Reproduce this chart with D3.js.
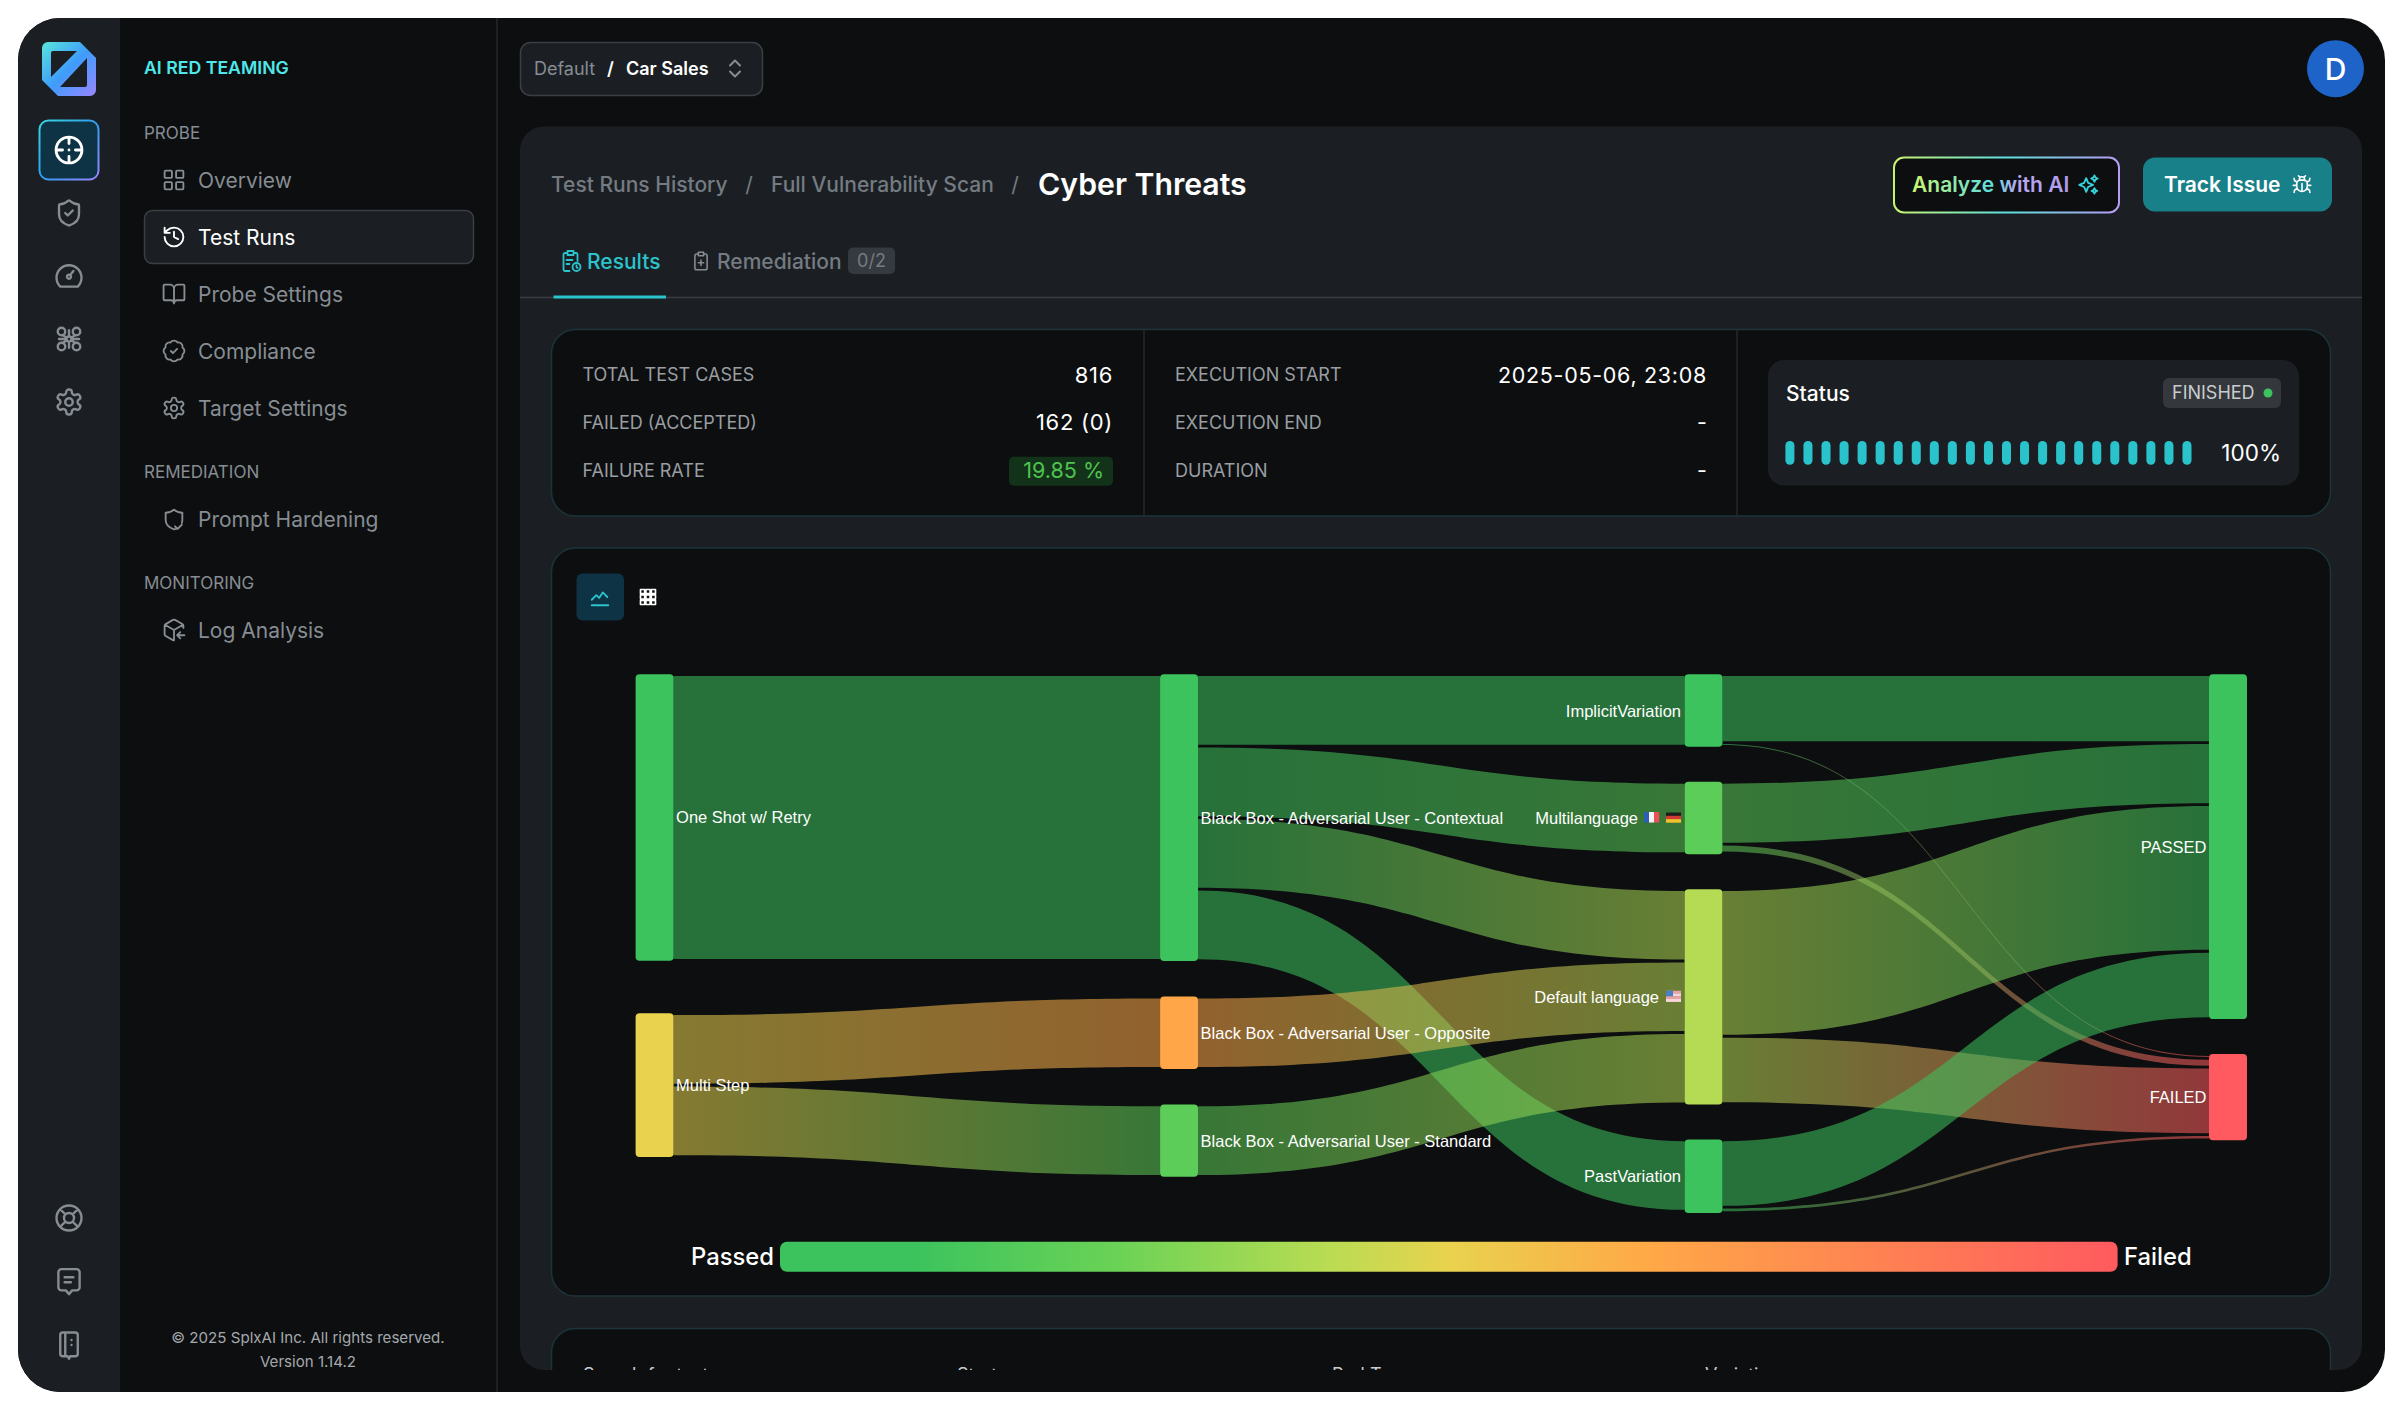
<!DOCTYPE html>
<html><head><meta charset="utf-8">
<script src="https://cdn.jsdelivr.net/npm/d3@7/dist/d3.min.js"></script>
<style>html,body{margin:0;padding:0;background:#fff}svg{display:block}</style>
</head><body><div id="app"></div>
<script>
// ---- Chart data ----
const nodeNames=["One Shot w/ Retry","Multi Step","Black Box - Adversarial User - Contextual","Black Box - Adversarial User - Opposite","Black Box - Adversarial User - Standard","ImplicitVariation","Multilanguage","Default language","PastVariation","PASSED","FAILED"];
const nodeColumns=[0,0,1,1,1,2,2,2,2,3,3];
const nodeRates=[0.05,0.5,0.05,0.66,0.2,0.05,0.2,0.4,0.05,0,1];
const linkSources=[0,1,1,2,2,2,2,3,4,5,5,6,6,7,7,8,8];
const linkTargets=[2,3,4,5,6,7,8,7,7,9,10,9,10,9,10,9,10];
const linkValues=[560,136,136,136,136,136,136,136,136,129,2,117,12,285,128,128,5];
const columnGaps=[52.6,35.6,35,35];
const colorStops=[0,0.1,0.25,0.41,0.5,0.65,1];
const colorValues=["#3CC35D","#3CC35D","#6AD256","#B9DC53","#E9D24E","#FFA847","#FF5A5F"];
const navSections=[["PROBE",133],["REMEDIATION",472],["MONITORING",583]];
const navItems=[["Overview",180,"grid"],["Test Runs",237,"history"],["Probe Settings",294,"book"],["Compliance",351,"badge"],["Target Settings",408,"gear"],["Prompt Hardening",519,"shield2"],["Log Analysis",630,"box"]];
const statsLeft=[["TOTAL TEST CASES","816",375],["FAILED (ACCEPTED)","162 (0)",422.5],["FAILURE RATE","19.85 %",470.5]];
const statsMid=[["EXECUTION START","2025-05-06, 23:08",375],["EXECUTION END","-",422.5],["DURATION","-",470.5]];
const tableHeads=[["Search for text",583],["Strategy",957],["Red Team",1332],["Variation",1705]];
const progressSteps=d3.range(23);

const P={
 grid:"M4 3h5a1 1 0 0 1 1 1v5a1 1 0 0 1-1 1H4a1 1 0 0 1-1-1V4a1 1 0 0 1 1-1zM15 3h5a1 1 0 0 1 1 1v5a1 1 0 0 1-1 1h-5a1 1 0 0 1-1-1V4a1 1 0 0 1 1-1zM4 14h5a1 1 0 0 1 1 1v5a1 1 0 0 1-1 1H4a1 1 0 0 1-1-1v-5a1 1 0 0 1 1-1zM15 14h5a1 1 0 0 1 1 1v5a1 1 0 0 1-1 1h-5a1 1 0 0 1-1-1v-5a1 1 0 0 1 1-1z",
 history:"M3 12a9 9 0 1 0 9-9 9.75 9.75 0 0 0-6.74 2.74L3 8M3 3v5h5M12 7v5l4 2",
 book:"M12 7v14M3 18a1 1 0 0 1-1-1V4a1 1 0 0 1 1-1h5a4 4 0 0 1 4 4 4 4 0 0 1 4-4h5a1 1 0 0 1 1 1v13a1 1 0 0 1-1 1h-6a3 3 0 0 0-3 3 3 3 0 0 0-3-3z",
 badge:"M3.85 8.62a4 4 0 0 1 4.78-4.77 4 4 0 0 1 6.74 0 4 4 0 0 1 4.78 4.78 4 4 0 0 1 0 6.74 4 4 0 0 1-4.77 4.78 4 4 0 0 1-6.75 0 4 4 0 0 1-4.78-4.77 4 4 0 0 1 0-6.76ZM9 12l2 2 4-4",
 gear:"M12.22 2h-.44a2 2 0 0 0-2 2v.18a2 2 0 0 1-1 1.73l-.43.25a2 2 0 0 1-2 0l-.15-.08a2 2 0 0 0-2.73.73l-.22.38a2 2 0 0 0 .73 2.73l.15.1a2 2 0 0 1 1 1.72v.51a2 2 0 0 1-1 1.74l-.15.09a2 2 0 0 0-.73 2.73l.22.38a2 2 0 0 0 2.73.73l.15-.08a2 2 0 0 1 2 0l.43.25a2 2 0 0 1 1 1.73V20a2 2 0 0 0 2 2h.44a2 2 0 0 0 2-2v-.18a2 2 0 0 1 1-1.73l.43-.25a2 2 0 0 1 2 0l.15.08a2 2 0 0 0 2.73-.73l.22-.39a2 2 0 0 0-.73-2.73l-.15-.08a2 2 0 0 1-1-1.74v-.5a2 2 0 0 1 1-1.74l.15-.09a2 2 0 0 0 .73-2.73l-.22-.38a2 2 0 0 0-2.73-.73l-.15.08a2 2 0 0 1-2 0l-.43-.25a2 2 0 0 1-1-1.73V4a2 2 0 0 0-2-2zM15 12a3 3 0 1 1-6 0 3 3 0 0 1 6 0",
 shield2:"M14 21.5c-.6.2-1.3.4-2 .5-4-1.4-8-4-8-9V6c3 0 6-1.2 8-3 2 1.8 5 3 8 3v7c0 1-.2 1.9-.5 2.8M13 19l2.5 2.5 4-4",
 box:"M21 10V8a2 2 0 0 0-1-1.7l-7-4a2 2 0 0 0-2 0l-7 4A2 2 0 0 0 3 8v8a2 2 0 0 0 1 1.7l7 4c.4.2.7.3 1 .3M3.3 7 12 12l8.7-5M12 22V12M22 17h-7M18 14l-3 3 3 3",
 shield:"M20 13c0 5-3.5 7.5-7.66 8.95a1 1 0 0 1-.67-.01C7.5 20.5 4 18 4 13V6a1 1 0 0 1 1-1c2 0 4.5-1.2 6.24-2.72a1.17 1.17 0 0 1 1.52 0C14.51 3.81 17 5 19 5a1 1 0 0 1 1 1zM9 12l2 2 4-4",
 gauge:"M5 20.5A10 10 0 1 1 19 20.5ZM13.5 12a1.6 1.6 0 1 1-3 0 1.6 1.6 0 0 1 3 0M13.5 10.5l2-2.5",
 cluster:"M9 6a3 3 0 1 1-6 0 3 3 0 0 1 6 0M21 6a3 3 0 1 1-6 0 3 3 0 0 1 6 0M9 18a3 3 0 1 1-6 0 3 3 0 0 1 6 0M21 18a3 3 0 1 1-6 0 3 3 0 0 1 6 0M14 12a2 2 0 1 1-4 0 2 2 0 0 1 4 0M7 9l3.5 2M17 9l-3.5 2M7 15l3.5-2M17 15l-3.5-2M12 5v5M12 14v5M4 12h6M14 12h6",
 buoy:"M22 12a10 10 0 1 1-20 0 10 10 0 0 1 20 0M16 12a4 4 0 1 1-8 0 4 4 0 0 1 8 0M4.9 4.9l4.3 4.3M14.8 9.2l4.3-4.3M14.8 14.8l4.3 4.3M9.2 14.8l-4.3 4.3",
 chat:"M6 2.5h12a2.5 2.5 0 0 1 2.5 2.5v12a2.5 2.5 0 0 1-2.5 2.5h-3.5L12 22.5l-2.5-3H6A2.5 2.5 0 0 1 3.5 17V5A2.5 2.5 0 0 1 6 2.5zM8.5 9h7M8.5 13h5",
 note:"M7 2h10a2 2 0 0 1 2 2v15a2 2 0 0 1-2 2h-4l-1 2-1-2H7a2 2 0 0 1-2-2V4a2 2 0 0 1 2-2zM9 2v19M14 8v.01M14 12v.01",
 cross:"M22 12a10 10 0 1 1-20 0 10 10 0 0 1 20 0M12 2v5M12 17v5M2 12h5M17 12h5M12 12v.01",
 updown:"M7 15l5 5 5-5M7 9l5-5 5 5",
 clipClock:"M9 2h6v4H9zM9 4H6.5A1.5 1.5 0 0 0 5 5.5v15A1.5 1.5 0 0 0 6.5 22H11M15 4h2.5A1.5 1.5 0 0 1 19 5.5V12M8 11h6M8 15h3M22 18a4 4 0 1 1-8 0 4 4 0 0 1 8 0M18 16.5V18l1 1",
 clip:"M9 2h6v4H9zM9 4H7a2 2 0 0 0-2 2v14a2 2 0 0 0 2 2h10a2 2 0 0 0 2-2V6a2 2 0 0 0-2-2h-2M12 11v6M9 14h6",
 spark:"M10 5l2.2 5.3L17.5 12.5l-5.3 2.2L10 20l-2.2-5.3L2.5 12.5l5.3-2.2zM19 2l1.2 2.3L22.5 5.5l-2.3 1.2L19 9l-1.2-2.3-2.3-1.2 2.3-1.2zM19 16l1 2 2 1-2 1-1 2-1-2-2-1 2-1z",
 bug:"M8 2l1.9 1.9M14.1 3.9 16 2M9 7.1v-1a3 3 0 1 1 6 0v1M12 20c-3.3 0-6-2.7-6-6v-3a4 4 0 0 1 4-4h4a4 4 0 0 1 4 4v3c0 3.3-2.7 6-6 6M12 20v-9M6.5 9C4.6 8.8 3 7.1 3 5M6 13H2M3 21c0-2.1 1.7-3.9 3.8-4M20.97 5c0 2.1-1.6 3.8-3.5 4M22 13h-4M17.2 17c2.1.1 3.8 1.9 3.8 4",
 trend:"M3 15l5-5 3 3 4-6 5 5M3 21h18",
 hash:"M3 3h5v5H3zM9.5 3h5v5h-5zM16 3h5v5h-5zM3 9.5h5v5H3zM9.5 9.5h5v5h-5zM16 9.5h5v5h-5zM3 16h5v5H3zM9.5 16h5v5h-5zM16 16h5v5h-5z"
};
const W=2403,H=1410,INTER="Inter, 'Noto Sans', sans-serif",ARIAL="'Liberation Sans', Arial, sans-serif";
const BG="#0D0E0F",PANEL="#1B1F24",MUTED="#868D93";
const svg=d3.select("#app").append("svg").attr("width",W).attr("height",H).attr("viewBox",[0,0,W,H]).style("background","#fff");
const defs=svg.append("defs");
function grad(id,stops,x1,y1,x2,y2){const g=defs.append("linearGradient").attr("id",id).attr("gradientUnits","userSpaceOnUse").attr("x1",x1).attr("y1",y1).attr("x2",x2).attr("y2",y2);
 stops.forEach(([o,c])=>g.append("stop").attr("offset",o).attr("stop-color",c));}
defs.append("clipPath").attr("id","frame").append("rect").attr("x",18).attr("y",18).attr("width",2367).attr("height",1374).attr("rx",42);
defs.append("clipPath").attr("id","cardClip").append("rect").attr("x",520).attr("y",127).attr("width",1842).attr("height",1243);
grad("logoG",[[0,"#58E6DA"],[.5,"#3F9CFB"],[1,"#9A85FF"]],42,42,96,96);
grad("activeG",[[0,"#3AD6DE"],[.5,"#2F9CF0"],[1,"#9A85FF"]],39,120,99,180);
grad("aiText",[[0,"#C9F36F"],[.5,"#5FE0DE"],[.68,"#B9A6F3"],[1,"#B19AF0"]],1912,0,2069,0);
grad("aiStroke",[[0,"#C9F36F"],[.5,"#5FE0DE"],[1,"#B59CF2"]],1893,0,2119,0);

const root=svg.append("g").attr("clip-path","url(#frame)");
function rect(g,x,y,w,h,r,fill,stroke,sw){return g.append("rect").attr("x",x).attr("y",y).attr("width",w).attr("height",h).attr("rx",r||0).attr("fill",fill||"none").attr("stroke",stroke||"none").attr("stroke-width",sw||1);}
function txt(g,x,y,s,size,fill,o={}){return g.append("text").attr("x",x).attr("y",y).attr("dy",".36em").attr("text-anchor",o.anchor||"start").attr("font-family",o.font||INTER).attr("font-size",size).attr("font-weight",o.weight||400).attr("letter-spacing",o.ls||null).attr("fill",fill).text(s);}
function icon(g,name,cx,cy,size,color,sw){return g.append("path").attr("d",P[name]).attr("transform",`translate(${cx-size/2},${cy-size/2}) scale(${size/24})`).attr("fill","none").attr("stroke",color).attr("stroke-width",sw||2).attr("stroke-linecap","round").attr("stroke-linejoin","round");}

// ---- App chrome ----
rect(root,0,0,W,H,0,BG);
rect(root,0,0,120,H,0,PANEL);
root.append("line").attr("x1",497).attr("x2",497).attr("y1",0).attr("y2",H).attr("stroke","#25282C").attr("stroke-width",1.5);
root.append("path").attr("fill-rule","evenodd").attr("fill","url(#logoG)").attr("d","M48 42H80L96 58V90a6 6 0 0 1-6 6H58L42 80V48a6 6 0 0 1 6-6ZM53 51a2 2 0 0 0-2 2V77L77 51ZM87 58 60 87H85a2 2 0 0 0 2-2Z");
rect(root,39.5,120.5,59,59,9,"#0E3344","url(#activeG)",2);
icon(root,"cross",69,150,31,"#fff",2.2);
[["shield",213],["gauge",276],["cluster",339],["gear",402],["buoy",1218],["chat",1281],["note",1345]].forEach(([n,y])=>icon(root,n,69,y,30,"#868D93",1.9));
txt(root,144,68,"AI RED TEAMING",17.7,"#4FE8EA",{weight:600});
navSections.forEach(([s,y])=>txt(root,144,y,s,17,MUTED));
rect(root,144.5,210.5,329,53,8,PANEL,"#3A3F44",1.5);
navItems.forEach(([s,y,ic])=>{const on=s==="Test Runs";icon(root,ic,174,y,25,on?"#fff":MUTED,1.8);txt(root,198,y,s,21,on?"#fff":MUTED);});
txt(root,308,1338,"© 2025 SplxAI Inc. All rights reserved.",15.1,"#A4A9AD",{anchor:"middle"});
txt(root,308,1362,"Version 1.14.2",15.1,"#A4A9AD",{anchor:"middle"});

// Top selector
rect(root,520.5,42.5,242,53,10,PANEL,"#3A3F44",1.5);
txt(root,534,68.5,"Default",18,MUTED);
txt(root,607,68.5,"/",18,"#fff",{weight:600});
txt(root,626,68.5,"Car Sales",18,"#fff",{weight:600});
icon(root,"updown",735,68.5,24,MUTED,2);
root.append("circle").attr("cx",2335.5).attr("cy",68.7).attr("r",28.5).attr("fill","#1E63C8");
txt(root,2335.5,68.7,"D",30,"#fff",{anchor:"middle",weight:500});

// Main card
rect(root,520,126.5,1842,1243.5,24,PANEL);
txt(root,551,184.5,"Test Runs History",21,"#747B81",{weight:500});
txt(root,749,184.5,"/",21,"#747B81",{anchor:"middle"});
txt(root,771,184.5,"Full Vulnerability Scan",21,"#747B81",{weight:500});
txt(root,1015,184.5,"/",21,"#747B81",{anchor:"middle"});
txt(root,1038,184.5,"Cyber Threats",30.2,"#fff",{weight:600});
// Header buttons
rect(root,1894,157.5,225,55,10,BG,"url(#aiStroke)",2);
txt(root,1912,184.5,"Analyze with AI",21,"url(#aiText)",{weight:600});
icon(root,"spark",2088,184.5,22,"#35D3DC",2);
rect(root,2143,157.5,189,54,12,"#178089");
txt(root,2164,184.5,"Track Issue",21,"#fff",{weight:600});
icon(root,"bug",2302,184.5,21,"#fff",1.8);
// Tabs
icon(root,"clipClock",570.5,261,24,"#2BC3CC",1.8);
txt(root,587,261,"Results",21,"#2BC3CC",{weight:500});
icon(root,"clip",701,261,21,MUTED,1.8);
txt(root,717,261,"Remediation",21,"#747B81",{weight:500});
rect(root,848,247.5,47,26.5,5,"#353A40");
txt(root,871.5,261,"0/2",18,"#747B81",{anchor:"middle"});
root.append("line").attr("x1",520).attr("x2",2362).attr("y1",297.5).attr("y2",297.5).attr("stroke","#3A3E42").attr("stroke-width",1.5);
rect(root,553.5,295.5,112.5,3,0,"#2BC3CC");

// Stat card
rect(root,551.5,329.5,1779,186.5,24,BG,"#1C343A",1.5);
[1144,1737].forEach(x=>root.append("line").attr("x1",x).attr("x2",x).attr("y1",330).attr("y2",516).attr("stroke","#25282C").attr("stroke-width",1.5));
rect(root,1009,456.7,104,29,5,"#12331A");
statsLeft.forEach(([a,b,y],i)=>{txt(root,582.5,y,a,18,"#999EA3");
 if(i==2)txt(root,1104,y,b,21.5,"#4FC24F",{anchor:"end"});else txt(root,1113,y,b,22,"#fff",{anchor:"end",ls:".7"});});
statsMid.forEach(([a,b,y])=>{txt(root,1175,y,a,18,"#999EA3");txt(root,1707,y,b,21.5,"#fff",{anchor:"end",ls:b.length>1?".7":null});});
rect(root,1768,360,531,125.5,16,PANEL);
txt(root,1786,393,"Status",21,"#fff",{weight:500});
rect(root,2163,378,118,30,6,"#34383D");
txt(root,2172,393,"FINISHED",18,"#C9CCCF");
root.append("circle").attr("cx",2268).attr("cy",393).attr("r",4.5).attr("fill","#3CC35D");
const progX=d3.scaleBand().domain(progressSteps).range([1785.4,2191.5]).paddingInner(.5);
root.selectAll(null).data(progressSteps).join("rect").attr("x",d=>progX(d)).attr("y",441).attr("width",progX.bandwidth()).attr("height",23.7).attr("rx",4.5).attr("fill","#2AC3CC");
txt(root,2281,453,"100%",22.5,"#fff",{anchor:"end"});

// Chart card
rect(root,551.5,548,1779,748,24,BG,"#1C343A",1.5);
rect(root,576.5,573.5,47.5,47,6,"#0E3344");
icon(root,"trend",600,597,22,"#2BC3CC",2);
icon(root,"hash",648,597,20,"#fff",2);

// Table card (clipped)
const cl=root.append("g").attr("clip-path","url(#cardClip)");
rect(cl,551.5,1328.5,1779,200,24,BG,"#1C343A",1.5);
tableHeads.forEach(([s,x])=>txt(cl,x,1375,s,18,"#C9CCCF"));

// ---- Sankey built from the arrays above ----
const chart=root.append("g");
const k=0.505, inset=1.8, linkGap=2.8, nodeW=38, chartTop=674.3;
const yScale=d3.scaleLinear().domain([0,816]).range([0,816*k]);
const xScale=d3.scalePoint().domain([0,1,2,3]).range([635.6,2209]);
const colorScale=d3.scaleLinear().domain(colorStops).range(colorValues);
const links=linkValues.map((v,i)=>({i,s:linkSources[i],t:linkTargets[i],v,w:yScale(v)}));
const nodes=nodeNames.map((name,i)=>{
 const out=links.filter(l=>l.s===i),inc=links.filter(l=>l.t===i);
 const ext=a=>d3.sum(a,l=>l.w)+Math.max(0,a.length-1)*linkGap;
 return {i,name,col:nodeColumns[i],out,inc,h:Math.max(ext(out),ext(inc))+2*inset,color:colorScale(nodeRates[i]),x:xScale(nodeColumns[i])};
});
d3.range(4).forEach(c=>{let y=chartTop;nodes.filter(n=>n.col===c).forEach(n=>{n.y=y;y+=n.h+columnGaps[c];});});
nodes.forEach(n=>{let y=n.y+inset;n.out.forEach(l=>{l.y0=y;y+=l.w+linkGap;});y=n.y+inset;n.inc.forEach(l=>{l.y1=y;y+=l.w+linkGap;});});
const lh=d3.linkHorizontal();
links.forEach(l=>{
 const x0=nodes[l.s].x+nodeW,x1=nodes[l.t].x;
 grad("lg"+l.i,[[0,nodes[l.s].color],[1,nodes[l.t].color]],x0,0,x1,0);
 const top=lh({source:[x0,l.y0],target:[x1,l.y1]});
 const bot=lh({source:[x1,l.y1+l.w],target:[x0,l.y0+l.w]});
 l.d=top+bot.replace(/^M/,"L")+"Z";
});
chart.append("g").selectAll("path").data(links).join("path").attr("d",l=>l.d).attr("fill",l=>`url(#lg${l.i})`).attr("fill-opacity",.55);
chart.append("g").selectAll("rect").data(nodes).join("rect").attr("x",n=>n.x).attr("y",n=>n.y).attr("width",nodeW).attr("height",n=>n.h).attr("rx",4).attr("fill",n=>n.color);
const lab=chart.append("g");
nodes.forEach(n=>{
 const right=n.col>=2;
 let x=right?n.x-(n.col==3?2.5:3.5):n.x+nodeW+2.5;
 if(n.name==="Multilanguage")x=1638; if(n.name==="Default language")x=1659;
 txt(lab,x,n.y+n.h/2,n.name,16.5,"#fff",{font:ARIAL,anchor:right?"end":"start"});
});
function flag(x,y,w,h,cols,vertical){const g=lab.append("g");cols.forEach((c,i)=>{
 if(vertical)rect(g,x+i*w/cols.length,y,w/cols.length+.2,h,0,c);else rect(g,x,y+i*h/cols.length,w,h/cols.length+.2,0,c);});return g;}
const mNode=nodes[6],dNode=nodes[7];
const my=mNode.y+mNode.h/2,dy=dNode.y+dNode.h/2;
flag(1644,my-6,15,10.5,["#2C5FB3","#F4F4F4","#E8505A"],true);
flag(1666,my-5.5,15,10,["#1E1E1E","#D13A33","#F2C12E"],false);
flag(1666,dy-6,15,11,["#E8A2A8","#F4D6D8","#E8A2A8","#F4D6D8"],false);
rect(lab,1666,dy-6,7,5.5,0,"#4B7FC4");

// Colour legend
const legendX=d3.scaleLinear().domain([0,1]).range([780,2117.6]);
grad("legendG",colorStops.map((s,i)=>[s,colorValues[i]]),legendX(0),0,legendX(1),0);
rect(chart,legendX(0),1241.7,legendX(1)-legendX(0),30,7,"url(#legendG)");
txt(chart,774,1256.7,"Passed",23.8,"#fff",{anchor:"end",weight:500});
txt(chart,2124,1256.7,"Failed",23.8,"#fff",{weight:500});
</script></body></html>
